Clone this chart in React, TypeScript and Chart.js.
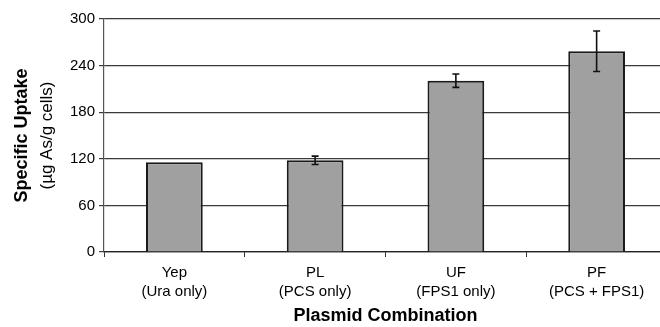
import React, { useEffect, useRef } from "react";
import { Chart, registerables } from "chart.js";

Chart.register(...registerables);

const categories: string[][] = [
  ["Yep", "(Ura only)"],
  ["PL", "(PCS only)"],
  ["UF", "(FPS1 only)"],
  ["PF", "(PCS + FPS1)"],
];
const uptake: number[] = [115.5, 118, 220.5, 258.5];
const uptakeError: number[] = [0, 5.4, 8.6, 26];
const yTitleMain = "Specific Uptake";
const yTitleSub = "(µg As/g cells)";
const xTitle = "Plasmid Combination";
const yMin = 0;
const yMax = 300;
const yStep = 60;

const FONT = "'Liberation Sans', Arial, Helvetica, sans-serif";

const errorBarPlugin = {
  id: "errorBars",
  afterDatasetsDraw(chart: any) {
    const meta = chart.getDatasetMeta(0);
    const yScale = chart.scales.y;
    const ctx = chart.ctx;
    ctx.save();
    ctx.strokeStyle = "#111";
    ctx.lineWidth = 1.6;
    meta.data.forEach((bar: any, i: number) => {
      const err = uptakeError[i];
      if (!err) return;
      const v = uptake[i];
      const x = bar.x;
      const yTop = yScale.getPixelForValue(v + err);
      const yBot = yScale.getPixelForValue(v - err);
      const cap = 3.5;
      ctx.beginPath();
      ctx.moveTo(x, yTop);
      ctx.lineTo(x, yBot);
      ctx.moveTo(x - cap, yTop);
      ctx.lineTo(x + cap, yTop);
      ctx.moveTo(x - cap, yBot);
      ctx.lineTo(x + cap, yBot);
      ctx.stroke();
    });
    ctx.restore();
  },
};

const yTitlePlugin = {
  id: "yTitleTwoLines",
  afterDraw(chart: any) {
    const ctx = chart.ctx;
    const area = chart.chartArea;
    const cy = (area.top + area.bottom) / 2;
    ctx.save();
    ctx.fillStyle = "#000";
    ctx.textAlign = "center";
    ctx.textBaseline = "middle";
    ctx.translate(22, cy);
    ctx.rotate(-Math.PI / 2);
    ctx.font = `bold 18px ${FONT}`;
    ctx.fillText(yTitleMain, 0, 0);
    ctx.font = `17px ${FONT}`;
    ctx.fillText(yTitleSub, 0, 25);
    ctx.restore();
  },
};

export default function App() {
  const canvasRef = useRef<HTMLCanvasElement | null>(null);

  useEffect(() => {
    if (!canvasRef.current) return;
    const chart = new Chart(canvasRef.current, {
      type: "bar",
      data: {
        labels: categories,
        datasets: [
          {
            data: uptake,
            backgroundColor: "#a0a0a0",
            borderColor: "#1a1a1a",
            borderWidth: 2,
            barPercentage: 0.403,
            categoryPercentage: 1,
          },
        ],
      },
      options: {
        animation: false,
        responsive: false,
        devicePixelRatio: 1,
        layout: { padding: { top: 19, right: 3, left: 0, bottom: 0 } },
        plugins: {
          legend: { display: false },
          tooltip: { enabled: false },
          title: { display: false },
        },
        scales: {
          x: {
            offset: true,
            afterFit(scale: any) {
              scale.height = 75;
            },
            grid: {
              offset: true,
              drawOnChartArea: false,
              drawTicks: true,
              tickLength: 5,
              color: "#333",
            },
            border: { display: true, color: "#222", width: 1.2 },
            ticks: {
              color: "#000",
              padding: 6,
              maxRotation: 0,
              autoSkip: false,
              font: { family: FONT, size: 15, lineHeight: 1.3 },
            },
            title: {
              display: true,
              text: xTitle,
              color: "#000",
              font: { family: FONT, size: 18, weight: "bold" },
              padding: { top: 0, bottom: 0 },
            },
          },
          y: {
            min: yMin,
            max: yMax,
            afterFit(scale: any) {
              scale.width = 104;
            },
            grid: {
              color: "#3a3a3a",
              lineWidth: 1.2,
              drawTicks: true,
              tickLength: 5,
            },
            border: { display: true, color: "#555", width: 1.2 },
            ticks: {
              stepSize: yStep,
              color: "#000",
              padding: 4,
              font: { family: FONT, size: 15 },
            },
          },
        },
      },
      plugins: [errorBarPlugin, yTitlePlugin],
    });
    return () => chart.destroy();
  }, []);

  return (
    <div
      style={{
        position: "absolute",
        left: 0,
        top: 0,
        width: 660,
        height: 327,
        overflow: "hidden",
        background: "#fff",
      }}
    >
      <canvas ref={canvasRef} width={670} height={327} style={{ display: "block" }} />
    </div>
  );
}
